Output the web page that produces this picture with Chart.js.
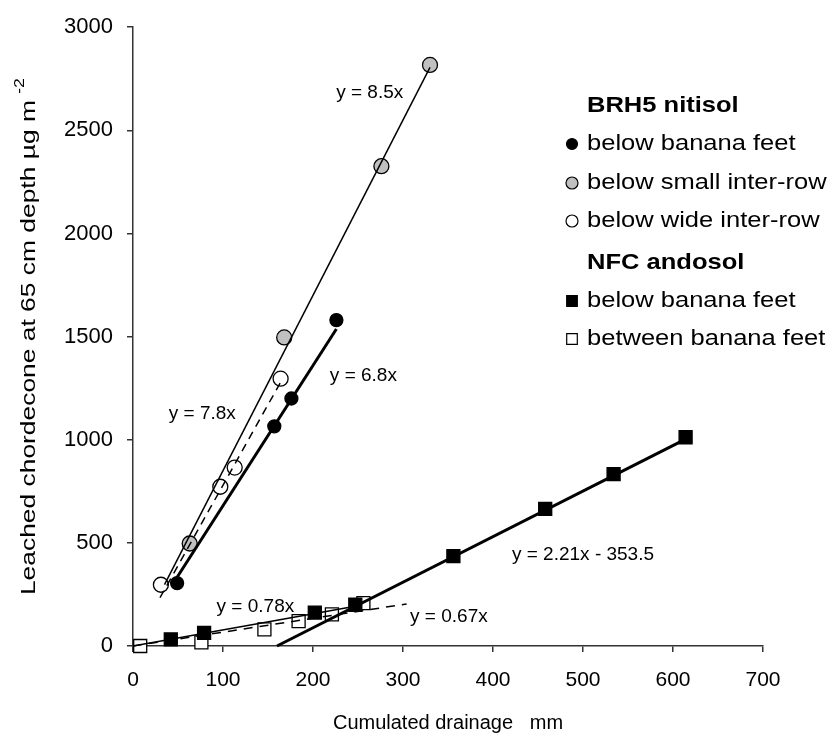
<!DOCTYPE html>
<html><head><meta charset="utf-8">
<script src="https://cdn.jsdelivr.net/npm/chart.js@4.4.0/dist/chart.umd.min.js"></script>
<style>html,body{margin:0;padding:0;background:#fff}#wrap{width:833px;height:740px}</style>
</head><body><div id="wrap"><canvas id="c" width="833" height="740"></canvas></div>
<script>
// ---- data (x: cumulated drainage mm, y: leached chlordecone µg m-2)
const brhFeet    = [[49,305],[157,1065],[176,1200],[226,1580]];
const brhSmall   = [[63,497],[168,1496],[276,2326],[330,2817]];
const brhWide    = [[31,297],[97,772],[113,865],[164,1296]];
const nfcFeet    = [[42,32],[79,64],[202,162],[247,200],[356,436],[458,665],[534,833],[614,1012]];
const nfcBetween = [[8,0],[76,18],[146,81],[184,121],[221,153],[256,208]];
// trend line end points as drawn
const trendSmall      = [[35,298],[330,2805]];
const trendFeet       = [[49,333],[226,1537]];
const trendWide       = [[30,234],[164,1279]];
const trendNfcLow     = [[0,0],[247,193]];
const trendNfcBetween = [[0,0],[304,204]];
const trendNfcHigh    = [[160,0],[614,1003]];
// equation labels and where they sit (data coordinates)
const eqLabels = ['y = 8.5x','y = 6.8x','y = 7.8x','y = 0.78x','y = 0.67x','y = 2.21x - 353.5'];
const eqAt     = [[263,2681],[256,1311],[77,1128],[136,192],[351,141],[500,441]];
const xTickValues = [0,100,200,300,400,500,600,700];
const yTickValues = [0,500,1000,1500,2000,2500,3000];
const legendRows = [
  {header:'BRH5 nitisol'},
  {text:'below banana feet', ds:6},
  {text:'below small inter-row', ds:7},
  {text:'below wide inter-row', ds:8},
  {header:'NFC andosol'},
  {text:'below banana feet', ds:9},
  {text:'between banana feet', ds:10}
];

const FONT = '"Liberation Sans", Arial, Helvetica, sans-serif';
const pts = a => a.map(p => ({x:p[0], y:p[1]}));
const lineDs = (d, w, dash) => ({data:pts(d), showLine:true, borderColor:'#000', backgroundColor:'#000',
  borderWidth:w, borderDash:dash||[], pointRadius:0, pointHoverRadius:0, fill:false, clip:false, order:0});
const ptDs = (d, style, r, bg, lr) => ({data:pts(d), showLine:false, pointStyle:style, pointRadius:r,
  pointHoverRadius:r, backgroundColor:bg, pointBackgroundColor:bg, borderColor:'#000', pointBorderColor:'#000',
  pointBorderWidth:1.3, clip:false, order:1, legendRadius:lr});

const annot = {
  id:'annot',
  afterDraw(chart){
    const ctx = chart.ctx, xs = chart.scales.x, ys = chart.scales.y;
    ctx.save();
    ctx.fillStyle = '#000';
    // equations
    ctx.font = '19px ' + FONT; ctx.textAlign = 'center'; ctx.textBaseline = 'middle';
    eqLabels.forEach((t,i) => ctx.fillText(t, xs.getPixelForValue(eqAt[i][0]), ys.getPixelForValue(eqAt[i][1])));
    // legend
    const lx = 572, tx = 587, rowY = [105,143,182,220,262,300,338];
    legendRows.forEach((r,i) => {
      const y = rowY[i];
      ctx.save();
      ctx.translate(tx, y); ctx.scale(1.16, 1);
      ctx.textAlign = 'left'; ctx.textBaseline = 'middle';
      ctx.font = (r.header ? 'bold ' : '') + '22px ' + FONT;
      ctx.fillText(r.header || r.text, 0, 1);
      ctx.restore();
      if (!r.header) {
        const ds = chart.data.datasets[r.ds];
        ctx.save();
        ctx.fillStyle = ds.pointBackgroundColor; ctx.strokeStyle = '#000'; ctx.lineWidth = 1.2;
        Chart.helpers.drawPoint(ctx, {pointStyle:ds.pointStyle, radius:ds.legendRadius, borderWidth:1.2, rotation:0}, lx, y + 1);
        ctx.restore();
      }
    });
    // x title
    ctx.font = '20px ' + FONT; ctx.textAlign = 'center'; ctx.textBaseline = 'middle';
    ctx.fillText('Cumulated drainage   mm', (chart.chartArea.left + chart.chartArea.right) / 2, 723);
    // y title with superscript, centred on the plot height
    ctx.save();
    const mainLen = 495, supGap = 22;
    const cy = (chart.chartArea.top + chart.chartArea.bottom) / 2;
    ctx.translate(35, cy + (mainLen + supGap) / 2); ctx.rotate(-Math.PI / 2);
    ctx.font = '21px ' + FONT; ctx.textAlign = 'left'; ctx.textBaseline = 'alphabetic';
    const main = 'Leached chordecone at 65 cm depth µg m';
    const w = ctx.measureText(main).width;
    ctx.scale(mainLen / w, 1);
    ctx.fillText(main, 0, 0);
    ctx.font = '14px ' + FONT;
    ctx.fillText('-2', w + 5, -11);
    ctx.restore();
    ctx.restore();
  }
};

const axisCommon = {
  type:'linear',
  grid:{display:true, drawOnChartArea:false, drawTicks:true, tickLength:6, color:'#333', lineWidth:1.5},
  border:{display:true, color:'#333', width:1.5},
  title:{display:false}
};

new Chart(document.getElementById('c'), {
  type:'scatter',
  data:{datasets:[
    lineDs(trendSmall, 1.5),
    lineDs(trendFeet, 3),
    lineDs(trendWide, 1.5, [8,6]),
    lineDs(trendNfcLow, 1.5),
    lineDs(trendNfcBetween, 1.5, [9,7]),
    lineDs(trendNfcHigh, 3),
    ptDs(brhFeet, 'circle', 6.5, '#000', 5.5),
    ptDs(brhSmall, 'circle', 7.5, '#c0c0c0', 6),
    ptDs(brhWide, 'circle', 7.5, '#fff', 6),
    ptDs(nfcFeet, 'rect', 9.2, '#000', 7.5),
    ptDs(nfcBetween, 'rect', 9.2, '#fff', 7.5)
  ]},
  options:{
    responsive:false, animation:false, devicePixelRatio:1,
    layout:{padding:{left:0, right:70, top:20, bottom:0}},
    plugins:{legend:{display:false}, tooltip:{enabled:false}, title:{display:false}},
    events:[],
    scales:{
      x:Object.assign({}, axisCommon, {
        min:0, max:700,
        afterBuildTicks:s => { s.ticks = xTickValues.map(v => ({value:v})); },
        afterFit:s => { s.height = 94; },
        ticks:{color:'#000', font:{family:FONT, size:21}, padding:16, maxRotation:0, callback:v => String(v)}
      }),
      y:Object.assign({}, axisCommon, {
        min:0, max:3000,
        afterBuildTicks:s => { s.ticks = yTickValues.map(v => ({value:v})); },
        afterFit:s => { s.width = 133; },
        ticks:{color:'#000', font:{family:FONT, size:22}, padding:14, callback:v => String(v)}
      })
    }
  },
  plugins:[annot]
});
</script></body></html>
